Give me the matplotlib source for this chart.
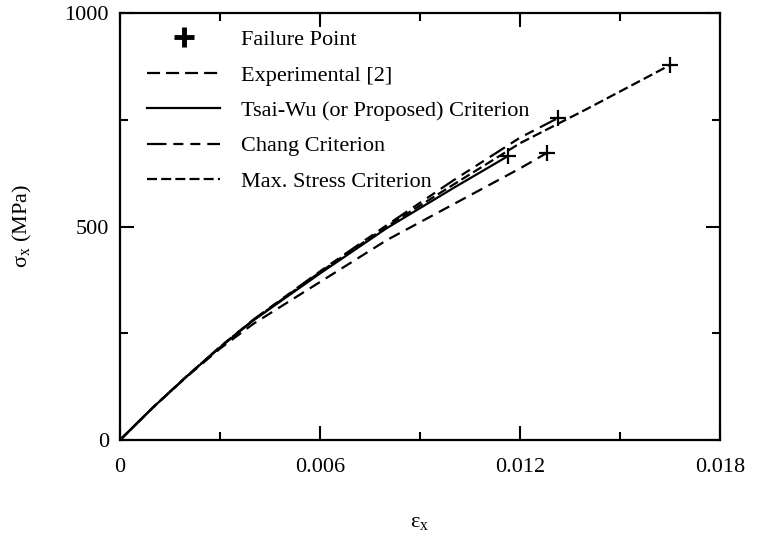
import matplotlib
matplotlib.use("Agg")
import matplotlib.pyplot as plt
from matplotlib.lines import Line2D
from matplotlib.ticker import MultipleLocator

plt.rcParams['font.family'] = ['Liberation Serif', 'DejaVu Serif']
plt.rcParams['mathtext.fontset'] = 'custom'
plt.rcParams['mathtext.rm'] = 'Liberation Serif'
plt.rcParams['mathtext.it'] = 'Liberation Serif:italic'
plt.rcParams['lines.scale_dashes'] = False

# curves (strain, stress in MPa)
strain_exp = [0, 0.001, 0.002, 0.003, 0.004, 0.006, 0.008, 0.010, 0.012, 0.0128]
stress_exp = [0, 77, 148, 214, 272, 370, 468, 552, 636, 672]

strain_tw = [0, 0.001, 0.002, 0.003, 0.004, 0.006, 0.008, 0.010, 0.01164]
stress_tw = [0, 77, 149, 217, 280, 390, 496, 590, 665]

strain_chang = [0, 0.001, 0.002, 0.003, 0.004, 0.006, 0.008, 0.010, 0.012, 0.01314]
stress_chang = [0, 77, 149, 218, 282, 395, 503, 608, 708, 754]

strain_max = [0, 0.001, 0.002, 0.003, 0.004, 0.006, 0.008, 0.010, 0.012, 0.014, 0.0165]
stress_max = [0, 77, 149, 218, 281, 393, 500, 598, 695, 775, 878]

labels = ["Failure Point", "Experimental [2]", "Tsai-Wu (or Proposed) Criterion",
          "Chang Criterion", "Max. Stress Criterion"]

FS = 16
fig = plt.figure(figsize=(7.57, 5.34), dpi=100)
ax = fig.add_axes([120/757, 1-440/534, 600/757, 427/534])

lw = 1.6
ls_exp = (0, (8.5, 5))
ls_chang = (0, (13, 5, 7, 5, 7, 5))
ls_max = (0, (7, 3))

ax.plot(strain_exp, stress_exp, color='black', lw=lw, linestyle=ls_exp)
ax.plot(strain_tw, stress_tw, color='black', lw=lw, linestyle='-')
ax.plot(strain_chang, stress_chang, color='black', lw=lw, linestyle=ls_chang)
ax.plot(strain_max, stress_max, color='black', lw=lw, linestyle=ls_max)

# failure points at curve ends
for sx, sy in [(strain_exp, stress_exp), (strain_tw, stress_tw),
               (strain_chang, stress_chang), (strain_max, stress_max)]:
    ax.plot(sx[-1], sy[-1], marker='+', color='black', markersize=12,
            markeredgewidth=1.6, linestyle='none')

ax.set_xlim(0, 0.018)
ax.set_ylim(0, 1000)
ax.set_xticks([0, 0.006, 0.012, 0.018])
ax.set_xticklabels(['0', '0.006', '0.012', '0.018'])
ax.set_yticks([0, 500, 1000])
ax.set_yticklabels(['0', '500', '1000'])
ax.xaxis.set_minor_locator(MultipleLocator(0.003))
ax.yaxis.set_minor_locator(MultipleLocator(250))
ax.tick_params(which='both', direction='in', top=True, right=True, labelsize=FS,
               width=1.5, color='black')
ax.tick_params(which='major', length=10)
ax.tick_params(which='minor', length=6)
ax.tick_params(axis='x', which='major', pad=13)
ax.tick_params(axis='y', which='major', pad=8)
for s in ax.spines.values():
    s.set_linewidth(1.6)

ax.set_xlabel(r'$\mathrm{\varepsilon_x}$', fontsize=FS, labelpad=26)
ax.set_ylabel(r'σ$_\mathrm{x}$ (MPa)', fontsize=FS, labelpad=22)

handles = [
    Line2D([], [], marker='+', color='black', markersize=15, markeredgewidth=3.5, linestyle='none'),
    Line2D([], [], color='black', lw=lw, linestyle=(0, (9.4, 4.3))),
    Line2D([], [], color='black', lw=lw, linestyle='-'),
    Line2D([], [], color='black', lw=lw, linestyle=(0, (14, 5, 7.2, 5, 7.2, 5))),
    Line2D([], [], color='black', lw=lw, linestyle=(0, (7.2, 3))),
]
ax.legend(handles, labels, loc='upper left', bbox_to_anchor=(0.03, 0.982),
          frameon=False, fontsize=FS, handlelength=3.3, handletextpad=0.95,
          labelspacing=0.67, borderaxespad=0)

fig.savefig('out.png', dpi=100)
